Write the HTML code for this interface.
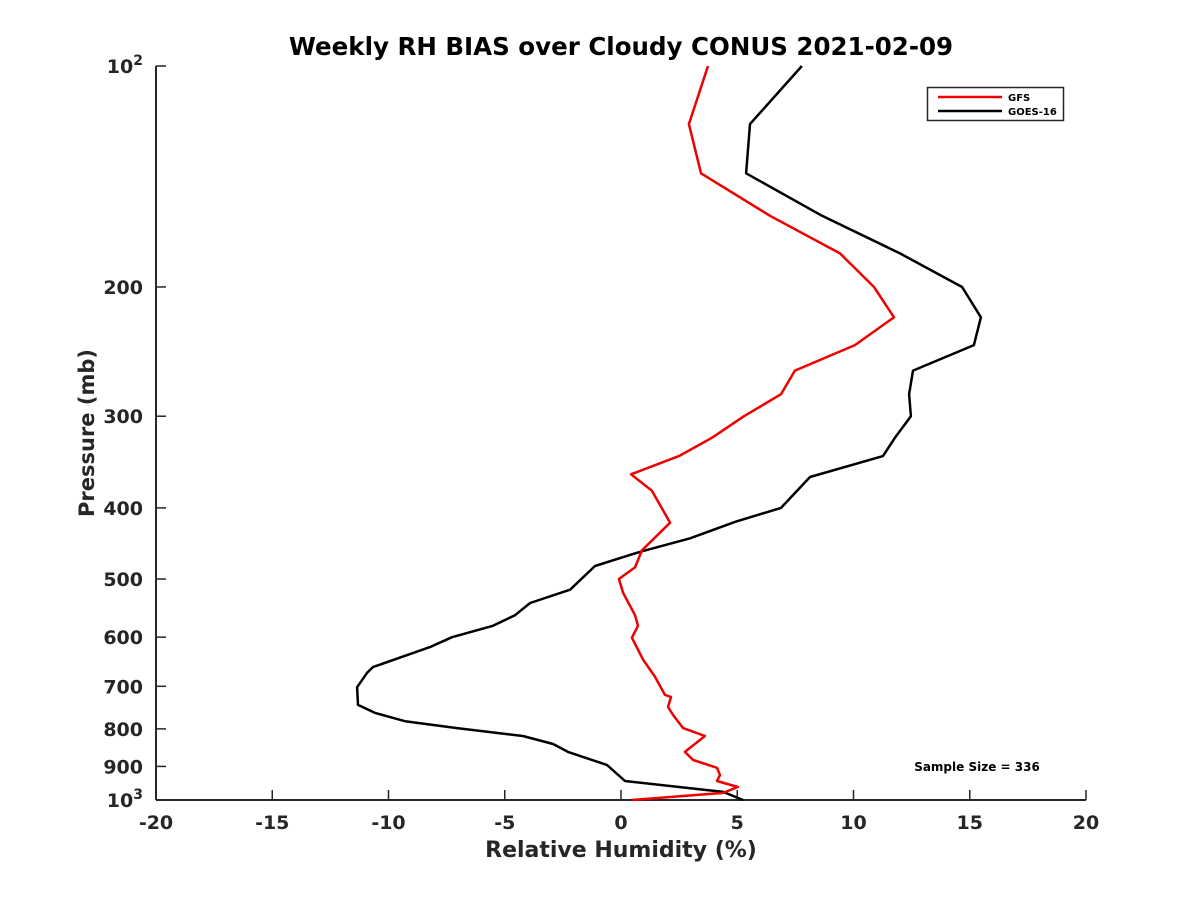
<!DOCTYPE html>
<html><head><meta charset="utf-8"><style>
body{margin:0;background:#fff;}
svg text{font-family:"DejaVu Sans","Liberation Sans",sans-serif;font-weight:bold;fill:#262626;}
</style></head><body>
<svg id="chart" width="1200" height="900" viewBox="0 0 1200 900" xmlns="http://www.w3.org/2000/svg">
<text x="621" y="55" text-anchor="middle" font-size="24.5" style="fill:#000">Weekly RH BIAS over Cloudy CONUS 2021-02-09</text>
<g id="axes"></g>
<g id="series"></g>
<text x="621" y="857" text-anchor="middle" font-size="22">Relative Humidity (%)</text>
<text transform="translate(94,433) rotate(-90)" text-anchor="middle" font-size="21">Pressure (mb)</text>
<g>
<rect x="927.5" y="87.5" width="136" height="33" fill="#fff" stroke="#262626" stroke-width="1.5"/>
<line x1="938" y1="97" x2="1002" y2="97" stroke="#ee0000" stroke-width="2.5"/>
<text x="1008" y="101" font-size="10" style="fill:#000">GFS</text>
<line x1="938" y1="111" x2="1002" y2="111" stroke="#000" stroke-width="2.5"/>
<text x="1008" y="115" font-size="10" style="fill:#000">GOES-16</text>
</g>
<text x="977" y="771" text-anchor="middle" font-size="12" style="fill:#000">Sample Size = 336</text>
</svg>
<script>
const xTicks=[-20,-15,-10,-5,0,5,10,15,20];
const yTicks=[100,200,300,400,500,600,700,800,900,1000];
const yTickLabels=["10²","200","300","400","500","600","700","800","900","10³"];
const gfsPressure=[100,120,140,160,180,200,220,240,260,280,300,321,340,360,379,419,457,482,500,522,560,579,601,644,679,719,724,747,766,798,818,860,882,904,925,942,960,978,1000];
const gfsValues=[3.74,2.92,3.44,6.41,9.42,10.88,11.74,10.06,7.48,6.88,5.29,3.91,2.49,0.43,1.33,2.11,0.90,0.60,-0.09,0.09,0.60,0.73,0.47,0.95,1.46,1.89,2.15,2.02,2.24,2.67,3.61,2.75,3.10,4.13,4.26,4.13,5.03,4.39,0.47];
const goesPressure=[100,120,140,160,180,200,220,240,260,280,300,321,340,363,400,418,440,459,480,517,539,560,579,600,619,659,671,702,742,761,781,798,818,839,860,896,942,975,1000];
const goesValues=[7.78,5.55,5.38,8.65,12.0,14.67,15.48,15.18,12.56,12.39,12.47,11.78,11.27,8.13,6.88,4.90,2.97,0.82,-1.12,-2.19,-3.91,-4.56,-5.51,-7.27,-8.22,-10.67,-10.92,-11.35,-11.31,-10.58,-9.29,-7.05,-4.22,-2.92,-2.28,-0.60,0.17,4.39,5.25];

const X0=156,X1=1086,Y0=66,Y1=800;
function xs(v){return X0+(v+20)/40*(X1-X0);}
function ys(p){return Y0+(Math.log10(p)-2)*(Y1-Y0);}
const NS="http://www.w3.org/2000/svg";
function mk(tag,attrs,parent){const e=document.createElementNS(NS,tag);for(const k in attrs)e.setAttribute(k,attrs[k]);parent.appendChild(e);return e;}
const axes=document.getElementById('axes');
const yAxis=mk('line',{x1:X0,y1:Y0,x2:X0,y2:Y1,stroke:'#262626','stroke-width':2},axes);


const xAxis=mk('line',{x1:X0,y1:Y1,x2:X1,y2:Y1,stroke:'#262626','stroke-width':2},axes);


xTicks.forEach(v=>{
  const t=mk('line',{x1:xs(v),y1:Y1,x2:xs(v),y2:Y1-10,stroke:'#262626','stroke-width':1.5},axes);
  
  
  const l=mk('text',{x:xs(v),y:Y1+29,'text-anchor':'middle','font-size':19},axes);
  
  
  l.textContent=v;
});
yTicks.forEach((p,i)=>{
  const t=mk('line',{x1:X0,y1:ys(p),x2:X0+10,y2:ys(p),stroke:'#262626','stroke-width':1.5},axes);
  
  
  const lab=yTickLabels[i];
  const l=mk('text',{x:X0-13,y:ys(p)+7,'text-anchor':'end','font-size':19},axes);
  
  
  if(lab.length==3&&(lab[2]=='²'||lab[2]=='³')){
    l.textContent=lab.slice(0,2);
    const s=mk('tspan',{dy:-8,'font-size':14},l);
    s.textContent=lab[2]=='²'?'2':'3';
  } else l.textContent=lab;
});
const ser=document.getElementById('series');
function line(vals,press,color,name){
  const pts=vals.map((v,i)=>xs(v).toFixed(1)+','+ys(press[i]).toFixed(1)).join(' ');
  const pl=mk('polyline',{points:pts,fill:'none',stroke:color,'stroke-width':2.5,'stroke-linejoin':'round'},ser);
  
  
}
line(goesValues,goesPressure,'#000','goes16-line');
line(gfsValues,gfsPressure,'#ee0000','gfs-line');
</script>
</body></html>
